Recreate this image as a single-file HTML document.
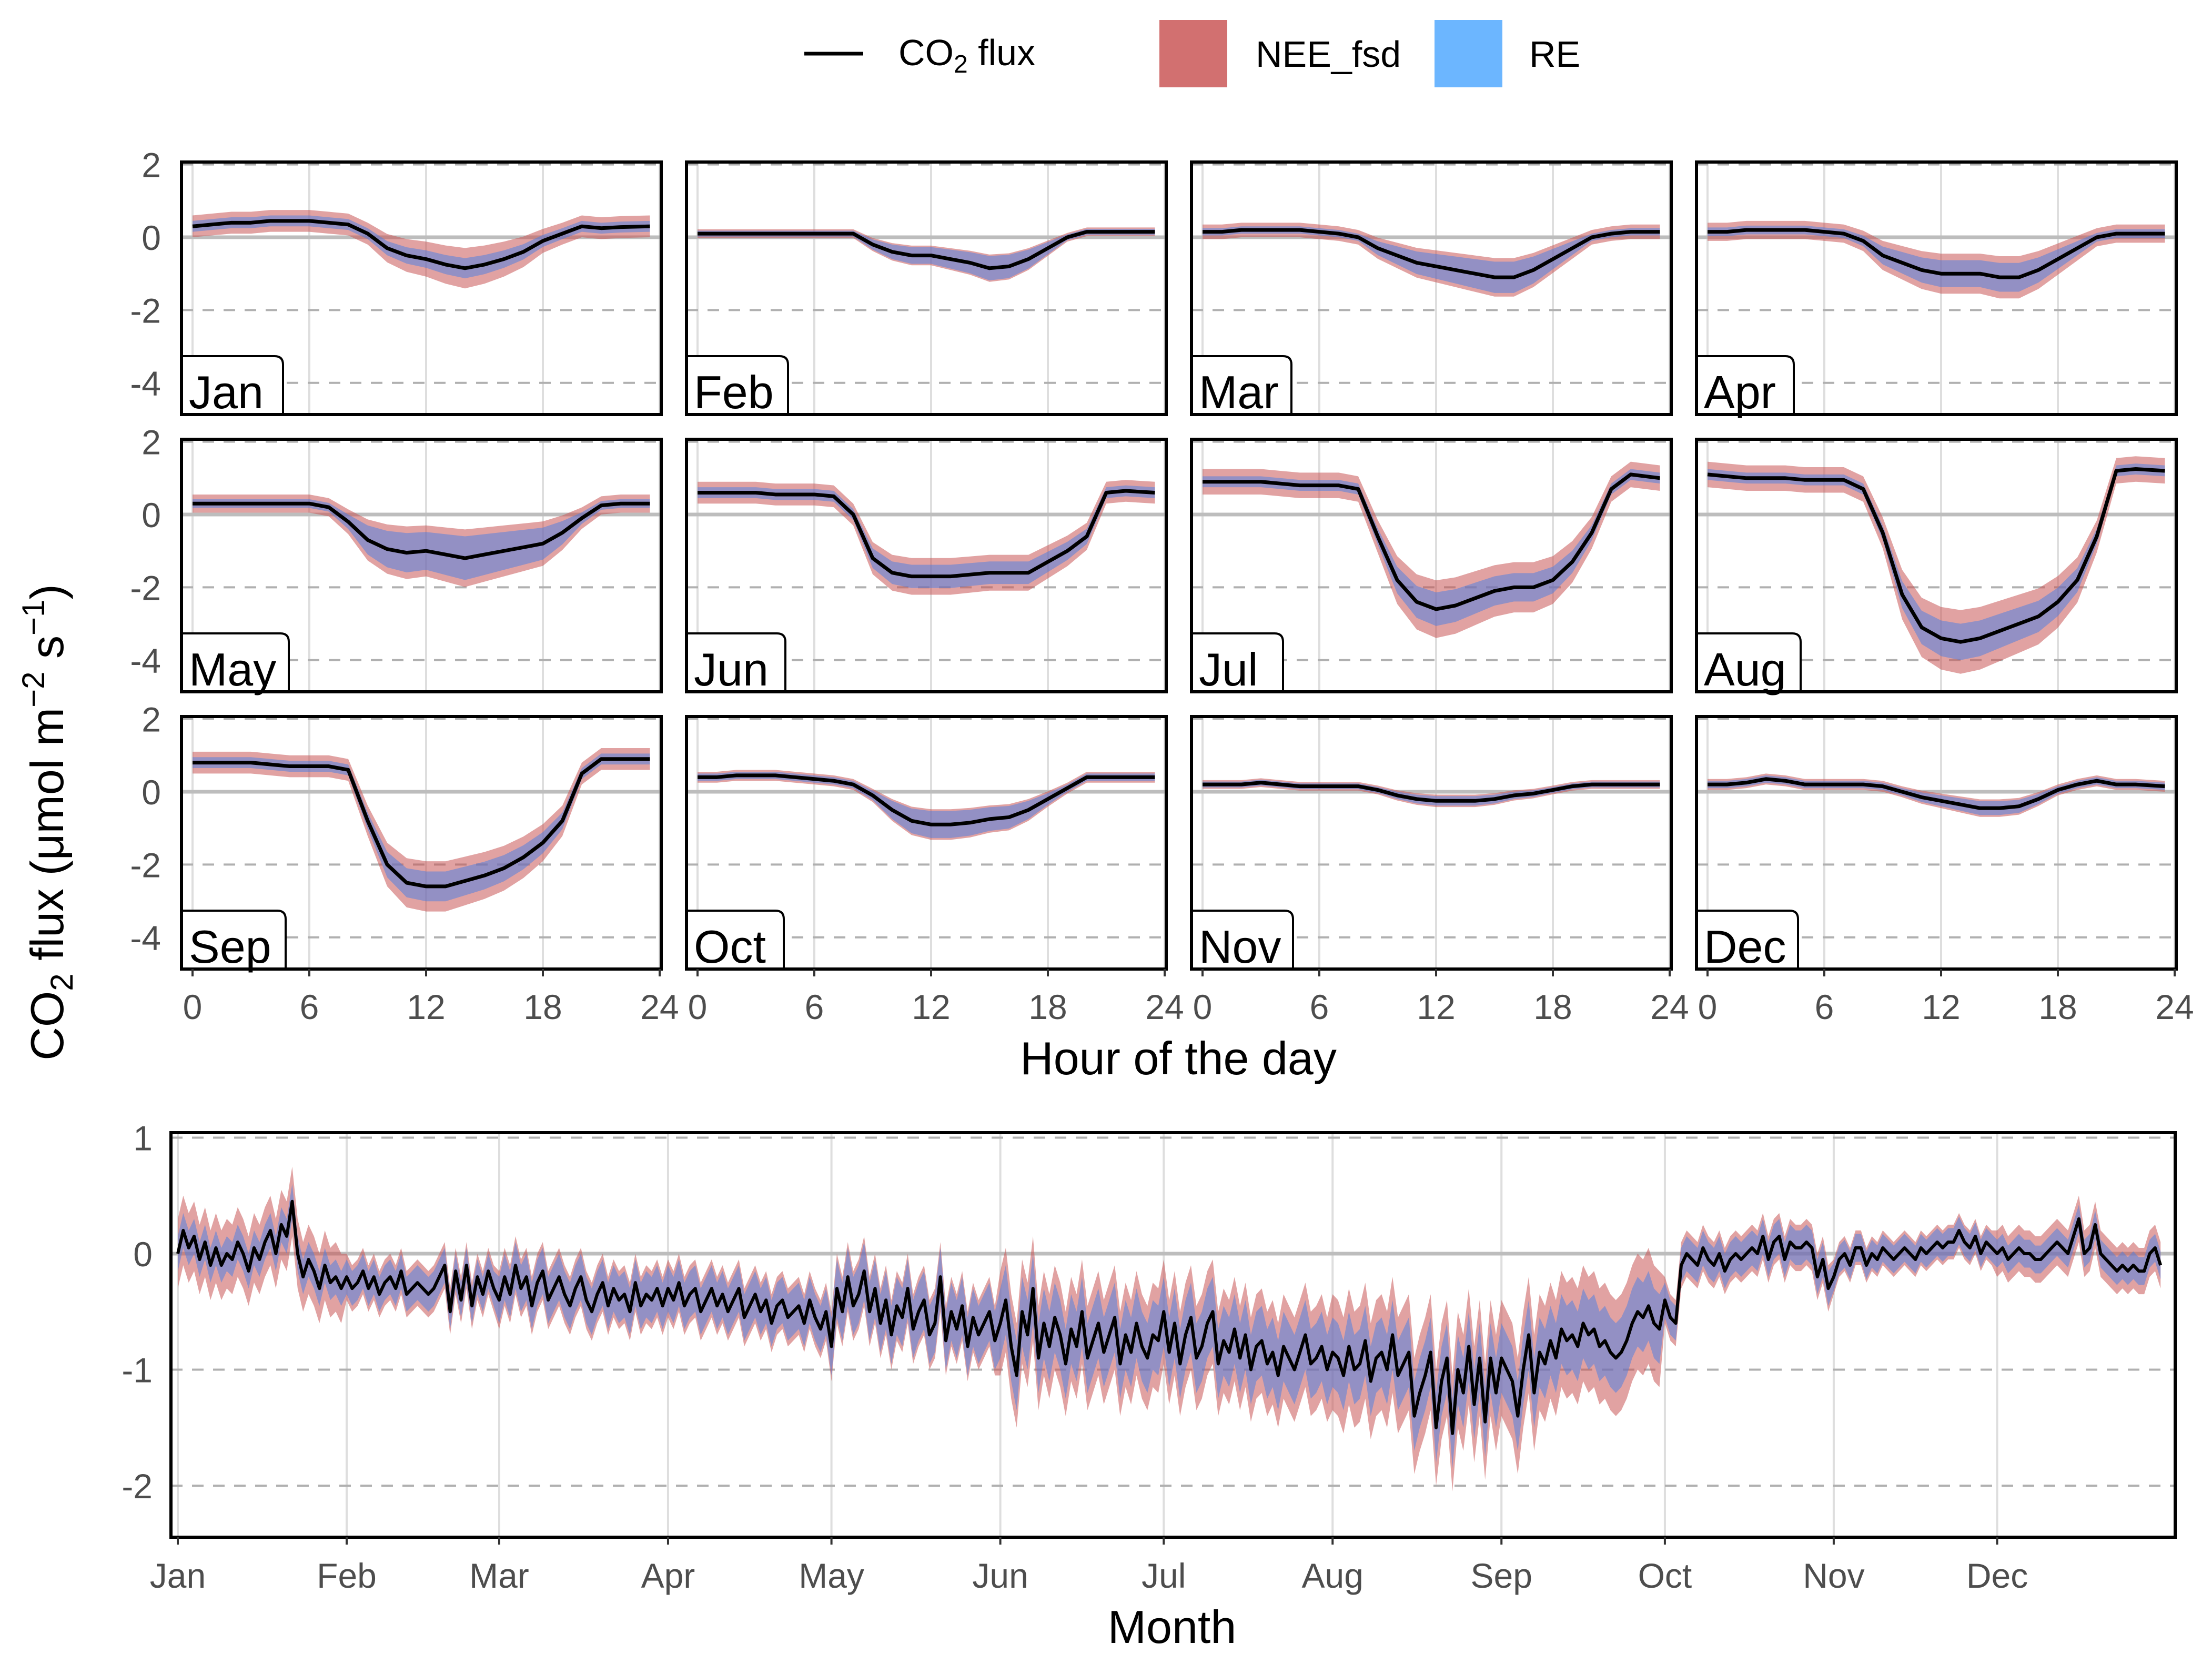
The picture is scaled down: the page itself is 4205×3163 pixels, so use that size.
<!DOCTYPE html>
<html><head><meta charset="utf-8">
<style>
html,body{margin:0;padding:0;background:#fff;}
svg{display:block;font-family:"Liberation Sans",sans-serif;}
</style></head>
<body>
<svg id="chart" width="4205" height="3163" viewBox="0 0 4205 3163" xmlns="http://www.w3.org/2000/svg">
<rect x="0" y="0" width="4205" height="3163" fill="#fff"/>
<g>
  <line x1="1529" y1="102" x2="1641" y2="102" stroke="#000" stroke-width="7"/>
  <text x="1708" y="124" font-size="70" fill="#000">CO<tspan font-size="48" dy="14">2</tspan><tspan dy="-14"> flux</tspan></text>
  <rect x="2204" y="38" width="129" height="128" fill="#d27070"/>
  <text x="2387" y="127" font-size="70" fill="#000">NEE_fsd</text>
  <rect x="2727" y="38" width="129" height="128" fill="#6cb6ff"/>
  <text x="2907" y="127" font-size="70" fill="#000">RE</text>
</g>
<text transform="translate(120,1563) rotate(-90)" text-anchor="middle" font-size="88" fill="#000">CO<tspan font-size="60" dy="18">2</tspan><tspan dy="-18"> flux (μmol m</tspan><tspan font-size="60" dy="-36">−2</tspan><tspan dy="36"> s</tspan><tspan font-size="60" dy="-36">−1</tspan><tspan dy="36">)</tspan></text>
<text x="2240" y="2042" text-anchor="middle" font-size="88" fill="#000">Hour of the day</text>
<text x="2228" y="3123" text-anchor="middle" font-size="88" fill="#000">Month</text>
<g id="panels"></g>
<g id="bottom"></g>
</svg>
<script>
const months = ["Jan","Feb","Mar","Apr","May","Jun","Jul","Aug","Sep","Oct","Nov","Dec"];
const hours = [0,1,2,3,4,5,6,7,8,9,10,11,12,13,14,15,16,17,18,19,20,21,22,23.5];
const fluxJan = [0.3,0.35,0.4,0.4,0.45,0.45,0.45,0.4,0.35,0.1,-0.3,-0.5,-0.6,-0.75,-0.85,-0.75,-0.6,-0.4,-0.1,0.1,0.3,0.25,0.28,0.3];
const fluxFeb = [0.1,0.1,0.1,0.1,0.1,0.1,0.1,0.1,0.1,-0.2,-0.4,-0.5,-0.5,-0.6,-0.7,-0.85,-0.8,-0.6,-0.3,0,0.15,0.15,0.15,0.15];
const fluxMar = [0.15,0.15,0.2,0.2,0.2,0.2,0.15,0.1,0,-0.3,-0.5,-0.7,-0.8,-0.9,-1.0,-1.1,-1.1,-0.9,-0.6,-0.3,0,0.1,0.15,0.15];
const fluxApr = [0.15,0.15,0.2,0.2,0.2,0.2,0.15,0.1,-0.1,-0.5,-0.7,-0.9,-1.0,-1.0,-1.0,-1.1,-1.1,-0.9,-0.6,-0.3,0,0.1,0.1,0.1];
const fluxMay = [0.3,0.3,0.3,0.3,0.3,0.3,0.3,0.2,-0.2,-0.7,-0.95,-1.05,-1.0,-1.1,-1.2,-1.1,-1.0,-0.9,-0.8,-0.5,-0.1,0.25,0.3,0.3];
const fluxJun = [0.6,0.6,0.6,0.6,0.55,0.55,0.55,0.5,0,-1.2,-1.6,-1.7,-1.7,-1.7,-1.65,-1.6,-1.6,-1.6,-1.3,-1.0,-0.6,0.6,0.65,0.6];
const fluxJul = [0.9,0.9,0.9,0.9,0.85,0.8,0.8,0.8,0.7,-0.6,-1.8,-2.4,-2.6,-2.5,-2.3,-2.1,-2.0,-2.0,-1.8,-1.3,-0.5,0.7,1.1,1.0];
const fluxAug = [1.1,1.05,1.0,1.0,1.0,0.95,0.95,0.95,0.7,-0.5,-2.2,-3.1,-3.4,-3.5,-3.4,-3.2,-3.0,-2.8,-2.4,-1.8,-0.6,1.2,1.25,1.2];
const fluxSep = [0.8,0.8,0.8,0.8,0.75,0.7,0.7,0.7,0.6,-0.8,-2.0,-2.5,-2.6,-2.6,-2.45,-2.3,-2.1,-1.8,-1.4,-0.8,0.5,0.9,0.9,0.9];
const fluxOct = [0.4,0.4,0.45,0.45,0.45,0.4,0.35,0.3,0.2,-0.1,-0.5,-0.8,-0.9,-0.9,-0.85,-0.75,-0.7,-0.5,-0.2,0.1,0.4,0.4,0.4,0.4];
const fluxNov = [0.2,0.2,0.2,0.25,0.2,0.15,0.15,0.15,0.15,0.05,-0.1,-0.2,-0.25,-0.25,-0.25,-0.2,-0.1,-0.05,0.05,0.15,0.2,0.2,0.2,0.2];
const fluxDec = [0.2,0.2,0.25,0.35,0.3,0.2,0.2,0.2,0.2,0.15,0,-0.15,-0.25,-0.35,-0.45,-0.45,-0.4,-0.2,0.05,0.2,0.3,0.2,0.2,0.15];
const neeBase = [0.3,0.12,0.2,0.25,0.25,0.3,0.35,0.35,0.3,0.15,0.12,0.15];
const reBase = [0.15,0.08,0.1,0.12,0.12,0.15,0.15,0.15,0.15,0.1,0.08,0.1];
const neeDay = [0.3,0.3,0.3,0.3,0.45,0.12,0.17,0.15,0.15,0.3,0.2,0.2];
const reDay = [0.15,0.3,0.3,0.25,0.4,0.1,0.12,0.1,0.1,0.3,0.2,0.2];
const yTicks = [2,0,-2,-4];
const hourTicks = [0,6,12,18,24];
const labelW = [193,193,190,185,204,188,174,198,198,185,193,193];

const dayMonthStart = [0,31,59,90,120,151,181,212,243,273,304,334];
const dJan=[0.0,0.2,0.05,0.15,-0.05,0.1,-0.1,0.05,-0.1,0.0,-0.05,0.1,0.0,-0.15,0.05,-0.05,0.1,0.2,0.0,0.25,0.15,0.45,0.0,-0.2,-0.05,-0.15,-0.3,-0.1,-0.25,-0.2,-0.3];
const dFeb=[-0.2,-0.3,-0.25,-0.15,-0.3,-0.2,-0.35,-0.25,-0.2,-0.3,-0.15,-0.35,-0.3,-0.25,-0.3,-0.35,-0.3,-0.2,-0.1,-0.5,-0.15,-0.4,-0.1,-0.45,-0.2,-0.35,-0.15,-0.3];
const dMar=[-0.4,-0.2,-0.35,-0.1,-0.3,-0.2,-0.45,-0.25,-0.15,-0.4,-0.3,-0.2,-0.35,-0.45,-0.3,-0.2,-0.4,-0.5,-0.35,-0.25,-0.45,-0.3,-0.4,-0.35,-0.5,-0.25,-0.45,-0.35,-0.4,-0.3,-0.45];
const dApr=[-0.3,-0.4,-0.25,-0.45,-0.35,-0.3,-0.5,-0.4,-0.3,-0.45,-0.35,-0.5,-0.4,-0.3,-0.55,-0.45,-0.35,-0.5,-0.4,-0.6,-0.45,-0.4,-0.55,-0.5,-0.45,-0.6,-0.4,-0.55,-0.65,-0.5];
const dMay=[-0.8,-0.3,-0.5,-0.2,-0.45,-0.35,-0.15,-0.5,-0.3,-0.6,-0.4,-0.7,-0.45,-0.55,-0.3,-0.65,-0.5,-0.4,-0.7,-0.6,-0.2,-0.75,-0.5,-0.65,-0.45,-0.8,-0.55,-0.7,-0.6,-0.5,-0.75];
const dJun=[-0.6,-0.4,-0.8,-1.05,-0.5,-0.7,-0.3,-0.9,-0.6,-0.8,-0.55,-0.7,-0.95,-0.65,-0.8,-0.5,-0.9,-0.75,-0.6,-0.85,-0.7,-0.55,-0.95,-0.7,-0.85,-0.6,-0.8,-0.9,-0.7,-0.75];
const dJul=[-0.5,-0.85,-0.6,-0.95,-0.7,-0.55,-0.9,-0.8,-0.6,-0.5,-0.95,-0.75,-0.85,-0.65,-0.9,-0.7,-1.0,-0.8,-0.75,-0.95,-0.85,-1.05,-0.8,-0.9,-1.0,-0.85,-0.7,-0.95,-0.9,-0.8,-1.0];
const dAug=[-0.85,-0.9,-1.05,-0.8,-1.0,-0.95,-0.75,-1.1,-0.9,-0.85,-1.0,-0.7,-1.05,-0.95,-0.85,-1.4,-1.2,-1.05,-0.85,-1.5,-1.1,-0.9,-1.55,-1.0,-1.2,-0.8,-1.3,-0.9,-1.45,-0.9,-1.2];
const dSep=[-0.9,-1.0,-1.1,-1.4,-1.0,-0.7,-1.2,-0.85,-0.95,-0.75,-0.9,-0.65,-0.75,-0.7,-0.8,-0.6,-0.7,-0.65,-0.8,-0.75,-0.85,-0.9,-0.85,-0.75,-0.6,-0.5,-0.55,-0.45,-0.6,-0.65];
const dOct=[-0.4,-0.55,-0.6,-0.1,0.0,-0.05,-0.1,0.05,-0.05,-0.1,0.0,-0.15,-0.05,0.0,-0.05,0.0,0.05,0.0,0.15,-0.05,0.1,0.15,-0.05,0.1,0.05,0.05,0.1,0.05,-0.2,-0.05,-0.3];
const dNov=[-0.2,-0.05,0.0,-0.1,0.05,0.05,-0.1,0.0,-0.05,0.05,0.0,-0.05,0.0,0.05,0.0,-0.05,0.05,0.0,0.05,0.1,0.05,0.1,0.1,0.2,0.1,0.05,0.15,0.0,0.1,0.05];
const dDec=[0.0,0.05,-0.05,0.0,0.05,0.0,0.0,-0.05,-0.05,0.0,0.05,0.1,0.05,0.0,0.15,0.3,0.0,0.05,0.25,0.0,-0.05,-0.1,-0.15,-0.1,-0.15,-0.1,-0.15,-0.15,0.0,0.05,-0.1];
const dailyNeeSd = [0.3,0.2,0.25,0.25,0.3,0.45,0.45,0.5,0.5,0.2,0.15,0.2];
const dailyReSd = [0.15,0.15,0.2,0.2,0.25,0.3,0.3,0.3,0.3,0.15,0.12,0.12];
const bottomTicks = [1,0,-1,-2];

const NS="http://www.w3.org/2000/svg";
function mk(tag, attrs, parent){const e=document.createElementNS(NS,tag);for(const k in attrs)e.setAttribute(k,attrs[k]);parent.appendChild(e);return e;}
const RED="rgba(200,85,85,0.55)", BLUE="rgba(70,125,230,0.5)";

const fluxByMonth=[fluxJan,fluxFeb,fluxMar,fluxApr,fluxMay,fluxJun,fluxJul,fluxAug,fluxSep,fluxOct,fluxNov,fluxDec];
const panels=document.getElementById('panels');
const PW=912, PH=480;
function bandPath(xs, lo, hi, sx, sy){
  let d="M"+xs.map((x,i)=>sx(x)+","+sy(hi[i])).join("L");
  for(let i=xs.length-1;i>=0;i--) d+="L"+sx(xs[i])+","+sy(lo[i]);
  return d+"Z";
}
for(let m=0;m<12;m++){
  const col=m%4,row=Math.floor(m/4);
  const L=345+col*960, T=308+row*527;
  const sx=h=>L+21+h*37, sy=v=>T+143-v*69.2;
  const g=mk('g',{},panels);
  
  
  hourTicks.forEach(h=>{const l=mk('line',{x1:sx(h),x2:sx(h),y1:T,y2:T+PH,stroke:"#dedede","stroke-width":4},g);
    });
  yTicks.forEach(v=>{const l=mk('line',{x1:L,x2:L+PW,y1:sy(v),y2:sy(v),stroke:v===0?"#bdbdbd":"#b0b0b0","stroke-width":v===0?7:4,"stroke-dasharray":v===0?"none":"22 18"},g);
    });
  const f=fluxByMonth[m];
  const nLo=f.map(v=>v-neeBase[m]-neeDay[m]*Math.max(0,-v)), nHi=f.map(v=>v+neeBase[m]+neeDay[m]*Math.max(0,-v));
  const rLo=f.map(v=>v-reBase[m]-reDay[m]*Math.max(0,-v)), rHi=f.map(v=>v+reBase[m]+reDay[m]*Math.max(0,-v));
  const p1=mk('path',{d:bandPath(hours,nLo,nHi,sx,sy),fill:RED},g);
  
  const p2=mk('path',{d:bandPath(hours,rLo,rHi,sx,sy),fill:BLUE},g);
  
  const ln=mk('polyline',{points:hours.map((h,i)=>sx(h)+","+sy(f[i])).join(" "),fill:"none",stroke:"#000","stroke-width":7,"stroke-linejoin":"round"},g);
  
  const bw=labelW[m], bt=T+369, bb=T+PH;
  const sb=mk('path',{d:`M${L},${bb}L${L},${bt}L${L+bw-16},${bt}Q${L+bw},${bt} ${L+bw},${bt+16}L${L+bw},${bb}Z`,fill:"#fff",stroke:"#000","stroke-width":4},g);
  
  const st=mk('text',{x:L+14,y:bb-12,"font-size":88,fill:"#000"},g);st.textContent=months[m];
  
  const br=mk('rect',{x:L,y:T,width:PW,height:PH,fill:"none",stroke:"#000","stroke-width":6},g);
  
  if(col===0){yTicks.forEach(v=>{const t=mk('text',{x:306,y:sy(v)+24,"text-anchor":"end","font-size":66,fill:"#4d4d4d"},g);t.textContent=v;
    });}
  if(row===2){hourTicks.forEach(h=>{const tk=mk('line',{x1:sx(h),x2:sx(h),y1:T+PH,y2:T+PH+14,stroke:"#333","stroke-width":4},g);
      
      const t=mk('text',{x:sx(h),y:1937,"text-anchor":"middle","font-size":66,fill:"#4d4d4d"},g);t.textContent=h;
      });}
}

// bottom daily chart
const daily=[].concat(dJan,dFeb,dMar,dApr,dMay,dJun,dJul,dAug,dSep,dOct,dNov,dDec);
const dayIdx=daily.map((v,i)=>i);
const monthOf=dayIdx.map(i=>{let k=0;for(let j=0;j<12;j++)if(i>=dayMonthStart[j])k=j;return k;});
const bg=document.getElementById('bottom');
const BL=325,BT=2153,BW=3810,BH=769;
const bx=d=>338+d*10.355, by=v=>2383-v*220.5;
dayMonthStart.forEach(d=>{const l=mk('line',{x1:bx(d),x2:bx(d),y1:BT,y2:BT+BH,stroke:"#dedede","stroke-width":4},bg);
  });
bottomTicks.forEach(v=>{const l=mk('line',{x1:BL,x2:BL+BW,y1:by(v),y2:by(v),stroke:v===0?"#bdbdbd":"#b0b0b0","stroke-width":v===0?7:4,"stroke-dasharray":v===0?"none":"22 18"},bg);
  
  const t=mk('text',{x:290,y:by(v)+24,"text-anchor":"end","font-size":66,fill:"#4d4d4d"},bg);t.textContent=v;
  });
const dnLo=daily.map((v,i)=>v-dailyNeeSd[monthOf[i]]), dnHi=daily.map((v,i)=>v+dailyNeeSd[monthOf[i]]);
const drLo=daily.map((v,i)=>v-dailyReSd[monthOf[i]]), drHi=daily.map((v,i)=>v+dailyReSd[monthOf[i]]);
const bp1=mk('path',{d:bandPath(dayIdx,dnLo,dnHi,bx,by),fill:RED},bg);

const bp2=mk('path',{d:bandPath(dayIdx,drLo,drHi,bx,by),fill:BLUE},bg);

const bl=mk('polyline',{points:dayIdx.map(i=>bx(i)+","+by(daily[i])).join(" "),fill:"none",stroke:"#000","stroke-width":6,"stroke-linejoin":"round"},bg);

const bb2=mk('rect',{x:BL,y:BT,width:BW,height:BH,fill:"none",stroke:"#000","stroke-width":6},bg);

dayMonthStart.forEach((d,j)=>{const tk=mk('line',{x1:bx(d),x2:bx(d),y1:BT+BH,y2:BT+BH+14,stroke:"#333","stroke-width":4},bg);
  
  const t=mk('text',{x:bx(d),y:3018,"text-anchor":"middle","font-size":66,fill:"#4d4d4d"},bg);t.textContent=months[j];
  });
</script>
</body></html>
